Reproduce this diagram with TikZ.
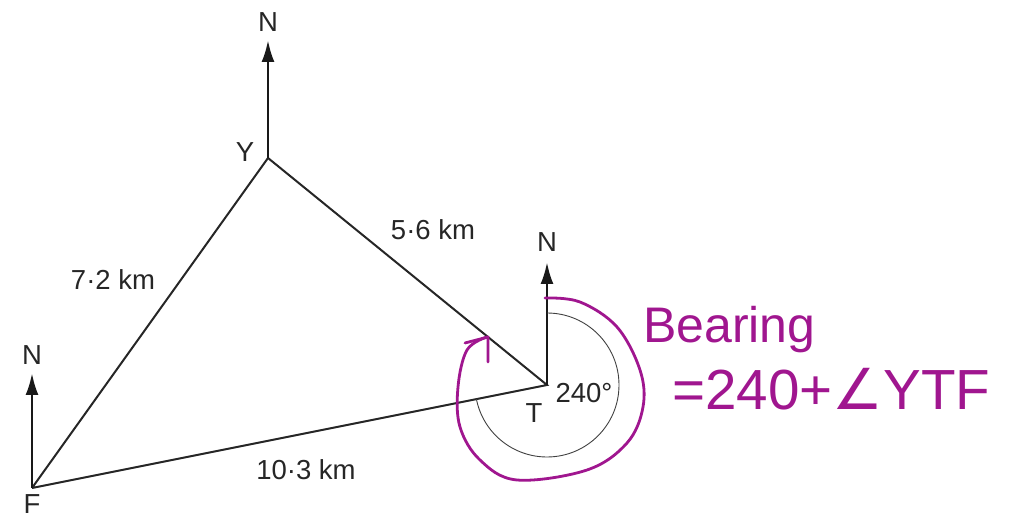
\documentclass[tikz,border=0pt]{standalone}
\usepackage{fontspec}
\setmainfont{Liberation Sans}
\newfontfamily\symfont{DejaVu Sans}
\usetikzlibrary{arrows.meta}
\definecolor{ink}{HTML}{A0168F}
\tikzset{
  edge/.style={line width=2pt, black!85},
  northarrow/.style={line width=2.8pt, black!90, -{Latex[length=22pt,width=13pt]}},
  lbl/.style={font=\fontsize{27.5}{31}\selectfont, text=black!85, inner sep=0pt},
  hand/.style={line width=2.8pt, ink, line cap=round, line join=round},
  handtext/.style={font=\fontsize{50}{54}\selectfont, text=ink, inner sep=0pt},
}
\begin{document}
\begin{tikzpicture}[x=1pt,y=1pt]
\useasboundingbox (0,0) rectangle (1010,519);
% points
\coordinate (F) at (32,31);
\coordinate (Y) at (268,361);
\coordinate (T) at (547,134);
\coordinate (FN) at (32,146);
\coordinate (YN) at (268,479);
\coordinate (TN) at (547,257);
% triangle
\draw[edge] (F) -- (Y) -- (T) -- (F);
% north arrows
\draw[northarrow] (F) -- (FN);
\draw[northarrow] (Y) -- (YN);
\draw[northarrow] (T) -- (TN);
% angle arc
\draw[line width=0.9pt, black!75] ([shift={(90:72)}]T) arc[start angle=90, end angle=-168.7, radius=72];
% labels
\node[lbl] (nF) at (32,164) {N};
\node[lbl] (nY) at (268,497) {N};
\node[lbl] (nT) at (547,277) {N};
\node[lbl] (lF) at (32,15) {F};
\node[lbl] (lY) at (245,367) {Y};
\node[lbl] (lT) at (534,106) {T};
\node[lbl] (ang) at (584,126) {240°};
\node[lbl] (dFY) at (113,239) {7·2 km};
\node[lbl] (dYT) at (433,289) {5·6 km};
\node[lbl] (dFT) at (306,49) {10·3 km};
% handwritten annotation
\draw[hand] plot[smooth, tension=0.6] coordinates {(545,221) (580,217) (617,192) (640,149) (643,112) (627,76) (587,49) (517,39) (480,59) (460,92) (458,132) (467,169) (487,182)};
\coordinate (tip) at (488,182);
\coordinate (barbA) at (465,176);
\coordinate (barbB) at (488,157);
\draw[hand] (barbA) -- (tip) -- (barbB);
\node[handtext, anchor=base west] (bear) at (643,176) {Bearing};
\node[handtext, anchor=base west] (eq) at (672,109) {\resizebox{318pt}{!}{=240+{\symfont ∠}YTF}};
\end{tikzpicture}
\end{document}
